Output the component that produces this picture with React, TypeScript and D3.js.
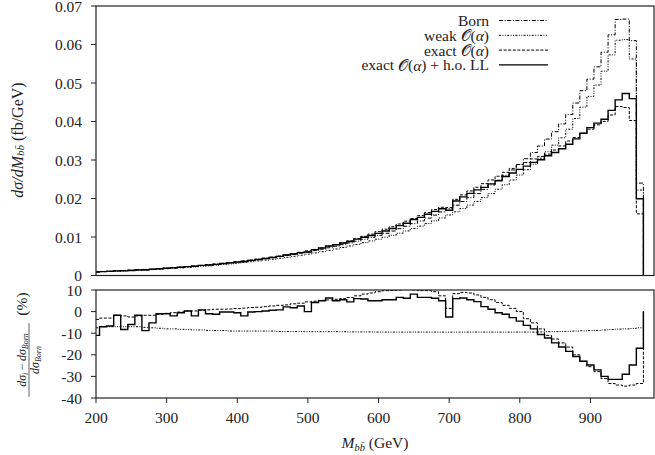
import React from "react";
import * as d3 from "d3";

// Bin edges (GeV): first half bin 200-205, then 10 GeV bins up to 975
const binEdges = [200, ...d3.range(205, 976, 10)];

// Top panel: dσ/dM (fb/GeV)
const bornTop = [
  0.00100, 0.00107, 0.00114, 0.00122, 0.00130, 0.00139, 0.00148, 0.00158, 0.00168, 0.00179,
  0.00191, 0.00203, 0.00216, 0.00230, 0.00245, 0.00260, 0.00276, 0.00293, 0.00311, 0.00330,
  0.00350, 0.00371, 0.00393, 0.00416, 0.00440, 0.00465, 0.00492, 0.00520, 0.00549, 0.00580,
  0.00612, 0.00646, 0.00682, 0.00720, 0.00760, 0.00802, 0.00846, 0.00892, 0.00940, 0.00990,
  0.01042, 0.01097, 0.01155, 0.01216, 0.01280, 0.01347, 0.01417, 0.01491, 0.01569, 0.01651,
  0.01737, 0.01827, 0.01922, 0.02022, 0.02127, 0.02237, 0.02353, 0.02475, 0.02604, 0.02740,
  0.02883, 0.03034, 0.03194, 0.03363, 0.03543, 0.03734, 0.03937, 0.04180, 0.04480, 0.04800,
  0.05100, 0.05420, 0.05800, 0.06250, 0.06650, 0.06660, 0.06100, 0.02400,
];
const weakTop = [
  0.00093, 0.00100, 0.00106, 0.00113, 0.00121, 0.00129, 0.00138, 0.00146, 0.00155, 0.00165,
  0.00176, 0.00187, 0.00198, 0.00211, 0.00224, 0.00238, 0.00252, 0.00267, 0.00284, 0.00300,
  0.00319, 0.00338, 0.00358, 0.00379, 0.00400, 0.00423, 0.00447, 0.00472, 0.00499, 0.00527,
  0.00555, 0.00586, 0.00619, 0.00653, 0.00689, 0.00727, 0.00766, 0.00808, 0.00852, 0.00897,
  0.00943, 0.00993, 0.01045, 0.01100, 0.01158, 0.01219, 0.01282, 0.01349, 0.01420, 0.01494,
  0.01572, 0.01653, 0.01739, 0.01830, 0.01925, 0.02024, 0.02129, 0.02240, 0.02357, 0.02480,
  0.02609, 0.02746, 0.02891, 0.03047, 0.03214, 0.03387, 0.03575, 0.03800, 0.04077, 0.04373,
  0.04651, 0.04948, 0.05307, 0.05731, 0.06111, 0.06127, 0.05624, 0.02220,
];
const exactTop = [
  0.00096, 0.00104, 0.00111, 0.00120, 0.00127, 0.00136, 0.00145, 0.00155, 0.00165, 0.00177,
  0.00189, 0.00202, 0.00216, 0.00231, 0.00246, 0.00262, 0.00278, 0.00296, 0.00314, 0.00334,
  0.00355, 0.00377, 0.00400, 0.00424, 0.00450, 0.00477, 0.00506, 0.00536, 0.00569, 0.00603,
  0.00640, 0.00677, 0.00717, 0.00759, 0.00803, 0.00850, 0.00901, 0.00957, 0.01016, 0.01075,
  0.01138, 0.01203, 0.01268, 0.01338, 0.01411, 0.01482, 0.01554, 0.01636, 0.01713, 0.01772,
  0.01763, 0.01979, 0.02093, 0.02196, 0.02291, 0.02385, 0.02482, 0.02579, 0.02680, 0.02781,
  0.02883, 0.02934, 0.03028, 0.03094, 0.03153, 0.03260, 0.03366, 0.03494, 0.03584, 0.03696,
  0.03800, 0.03913, 0.04002, 0.04169, 0.04389, 0.04362, 0.04026, 0.01601,
];
const exactLLTop = [
  0.00089, 0.00100, 0.00106, 0.00120, 0.00119, 0.00131, 0.00145, 0.00144, 0.00159, 0.00177,
  0.00189, 0.00199, 0.00215, 0.00231, 0.00240, 0.00262, 0.00273, 0.00289, 0.00310, 0.00329,
  0.00348, 0.00364, 0.00392, 0.00416, 0.00441, 0.00468, 0.00496, 0.00531, 0.00559, 0.00595,
  0.00612, 0.00673, 0.00716, 0.00765, 0.00798, 0.00846, 0.00884, 0.00946, 0.00995, 0.01040,
  0.01094, 0.01157, 0.01219, 0.01296, 0.01359, 0.01456, 0.01511, 0.01589, 0.01666, 0.01734,
  0.01694, 0.01937, 0.02043, 0.02133, 0.02225, 0.02288, 0.02379, 0.02463, 0.02573, 0.02663,
  0.02756, 0.02840, 0.02938, 0.03006, 0.03111, 0.03193, 0.03291, 0.03411, 0.03548, 0.03696,
  0.03840, 0.03957, 0.04060, 0.04288, 0.04562, 0.04729, 0.04593, 0.01992,
];

// Bottom panel: relative corrections (%)
const weakRel = [
  -7.5, -7, -7, -7, -7, -7, -7, -7.3, -7.5, -7.7,
  -8, -8, -8.2, -8.3, -8.5, -8.5, -8.7, -8.8, -8.8, -9,
  -9, -9, -9, -9, -9, -9, -9.2, -9.2, -9.2, -9.2,
  -9.3, -9.3, -9.3, -9.3, -9.3, -9.3, -9.4, -9.4, -9.4, -9.4,
  -9.5, -9.5, -9.5, -9.5, -9.5, -9.5, -9.5, -9.5, -9.5, -9.5,
  -9.5, -9.5, -9.5, -9.5, -9.5, -9.5, -9.5, -9.5, -9.5, -9.5,
  -9.5, -9.5, -9.5, -9.4, -9.3, -9.3, -9.2, -9.1, -9, -8.9,
  -8.8, -8.7, -8.5, -8.3, -8.1, -8, -7.8, -7.5,
];
const exactRel = [
  -3.6, -3, -3, -1.7, -2, -2.5, -2, -1.7, -1.7, -1.2,
  -0.8, -0.5, -0.2, 0.3, 0.3, 0.6, 0.8, 1.1, 1.1, 1.2,
  1.4, 1.6, 1.9, 2.0, 2.3, 2.6, 2.9, 3.1, 3.6, 3.9,
  4.5, 4.8, 5.2, 5.4, 5.7, 6.0, 6.5, 7.3, 8.1, 8.6,
  9.2, 9.7, 9.8, 10, 10.2, 10, 9.7, 9.7, 9.2, 7.3,
  1.5, 8.3, 8.9, 8.6, 7.7, 6.6, 5.5, 4.2, 2.9, 1.5,
  0, -3.3, -5.2, -8, -11, -12.7, -14.5, -16.4, -20, -23,
  -25.5, -27.8, -31, -33.3, -34, -34.5, -34, -33.3,
];
const exactLLRel = [
  -11, -7, -6.7, -1.7, -8.3, -6, -1.7, -8.8, -5.2, -1,
  -1, -2, -0.5, 0.3, -2, 0.8, -1, -1.2, -0.2, -0.2,
  -0.5, -2, -0.2, 0, 0.3, 0.6, 0.8, 2.2, 1.8, 2.6,
  0, 4.2, 5, 6.3, 5, 5.5, 4.5, 6, 5.8, 5,
  5, 5.5, 5.5, 6.6, 6.2, 8.1, 6.6, 6.6, 6.2, 5,
  -2.5, 6, 6.3, 5.5, 4.6, 2.3, 1.1, -0.5, -1.2, -2.8,
  -4.4, -6.4, -8, -10.6, -12.2, -14.5, -16.4, -18.4, -20.8, -23,
  -24.7, -27, -30, -31.4, -31.4, -29, -24.7, -17,
];

const xTicks = [200, 300, 400, 500, 600, 700, 800, 900];
const yTopTicks = [0, 0.01, 0.02, 0.03, 0.04, 0.05, 0.06, 0.07];
const yTopLabels = ["0", "0.01", "0.02", "0.03", "0.04", "0.05", "0.06", "0.07"];
const yBotTicks = [10, 0, -10, -20, -30, -40];

const legendNames = ["Born", "weak", "exact", "exactLL"];

const FONT = "'Liberation Serif', 'DejaVu Serif', serif";

const styles: Record<string, { dash: string; width: number }> = {
  Born: { dash: "4,1.6,1,1.6", width: 1 },
  weak: { dash: "2,1.4,1,1.4,1,1.4", width: 1 },
  exact: { dash: "3,1.6", width: 1 },
  exactLL: { dash: "", width: 1.4 },
};

function stepPath(
  values: number[],
  x: d3.ScaleLinear<number, number>,
  y: d3.ScaleLinear<number, number>
) {
  const pts: [number, number][] = values.map((v, i) => [binEdges[i], v]);
  pts.push([binEdges[binEdges.length - 1], values[values.length - 1]]);
  pts.push([binEdges[binEdges.length - 1], 0]);
  const line = d3
    .line<[number, number]>()
    .x((d) => x(d[0]))
    .y((d) => y(d[1]))
    .curve(d3.curveStepAfter);
  return line(pts) || "";
}

export default function App() {
  const W = 655;
  const H = 455;
  const left = 96;
  const right = 654;
  const x = d3.scaleLinear().domain([200, 990]).range([left, right]);
  const yTop = d3.scaleLinear().domain([0, 0.07]).range([275.5, 6]);
  const yBot = d3.scaleLinear().domain([-40, 10]).range([398, 290]);

  const topSeries = [
    { key: "Born", data: bornTop },
    { key: "weak", data: weakTop },
    { key: "exact", data: exactTop },
    { key: "exactLL", data: exactLLTop },
  ];
  const botSeries = [
    { key: "weak", data: weakRel },
    { key: "exact", data: exactRel },
    { key: "exactLL", data: exactLLRel },
  ];

  const frameColor = "#222";
  const fs = 15.5;

  return (
    <svg
      width={W}
      height={H}
      style={{ position: "absolute", left: 0, top: 0, background: "#fff" }}
      fontFamily={FONT}
    >
      <defs>
        <clipPath id="clipTop">
          <rect x={left} y={yTop(0.07)} width={right - left} height={yTop(0) - yTop(0.07)} />
        </clipPath>
        <clipPath id="clipBot">
          <rect x={left} y={yBot(10)} width={right - left} height={yBot(-40) - yBot(10)} />
        </clipPath>
      </defs>

      {/* Top panel curves */}
      <g clipPath="url(#clipTop)">
        {topSeries.map((s) => (
          <path
            key={s.key}
            d={stepPath(s.data, x, yTop)}
            fill="none"
            stroke="#000"
            strokeWidth={styles[s.key].width}
            strokeDasharray={styles[s.key].dash || undefined}
          />
        ))}
      </g>

      {/* Bottom panel curves */}
      <g clipPath="url(#clipBot)">
        {botSeries.map((s) => (
          <path
            key={s.key}
            d={stepPath(s.data, x, yBot)}
            fill="none"
            stroke="#000"
            strokeWidth={styles[s.key].width}
            strokeDasharray={styles[s.key].dash || undefined}
          />
        ))}
      </g>

      {/* Frames */}
      <rect
        x={left}
        y={yTop(0.07)}
        width={right - left}
        height={yTop(0) - yTop(0.07)}
        fill="none"
        stroke={frameColor}
        strokeWidth={1.2}
      />
      <rect
        x={left}
        y={yBot(10)}
        width={right - left}
        height={yBot(-40) - yBot(10)}
        fill="none"
        stroke={frameColor}
        strokeWidth={1.2}
      />

      {/* Top y ticks */}
      {yTopTicks.map((t, i) => (
        <g key={"yt" + i}>
          <line x1={left - 5} x2={left} y1={yTop(t)} y2={yTop(t)} stroke={frameColor} strokeWidth={1} />
          <text x={82} y={yTop(t)} textAnchor="end" dominantBaseline="central" fontSize={fs} fill="#222">
            {yTopLabels[i]}
          </text>
        </g>
      ))}

      {/* Bottom y ticks */}
      {yBotTicks.map((t, i) => (
        <g key={"yb" + i}>
          <line x1={left - 5} x2={left} y1={yBot(t)} y2={yBot(t)} stroke={frameColor} strokeWidth={1} />
          <text x={82} y={yBot(t)} textAnchor="end" dominantBaseline="central" fontSize={fs} fill="#222">
            {t}
          </text>
        </g>
      ))}

      {/* X ticks */}
      {xTicks.map((t, i) => (
        <g key={"xt" + i}>
          <line x1={x(t)} x2={x(t)} y1={yBot(-40)} y2={yBot(-40) + 5} stroke={frameColor} strokeWidth={1} />
          <text x={x(t)} y={423} textAnchor="middle" fontSize={fs} fill="#222">
            {t}
          </text>
        </g>
      ))}

      {/* X title */}
      <text x={(left + right) / 2} y={448} textAnchor="middle" fontSize={fs} fill="#222">
        <tspan fontStyle="italic">M</tspan>
        <tspan fontSize={10.5} dy={3} fontStyle="italic">{"bb\u0304"}</tspan>
        <tspan dy={-3}> (GeV)</tspan>
      </text>

      {/* Top Y title */}
      <g transform={`translate(17, 140) rotate(-90)`}>
        <text x={0} y={0} textAnchor="middle" dominantBaseline="central" fontSize={16} fill="#222">
          <tspan fontStyle="italic">{"dσ/dM"}</tspan>
          <tspan fontSize={11} dy={3} fontStyle="italic">{"bb\u0304"}</tspan>
          <tspan dy={-3}> (fb/GeV)</tspan>
        </text>
      </g>

      {/* Bottom Y title (fraction) */}
      <g transform={`translate(0, 345) rotate(-90)`}>
        <text x={-15} y={26} textAnchor="middle" fontSize={12} fill="#222">
          <tspan fontStyle="italic">{"dσ"}</tspan>
          <tspan fontSize={8} dy={2} fontStyle="italic">i</tspan>
          <tspan dy={-2}>{"\u2009\u2212\u2009"}</tspan>
          <tspan fontStyle="italic">{"dσ"}</tspan>
          <tspan fontSize={8} dy={2} fontStyle="italic">Born</tspan>
        </text>
        <line x1={-52} x2={22} y1={29} y2={29} stroke="#222" strokeWidth={0.7} />
        <text x={-15} y={39} textAnchor="middle" fontSize={12} fill="#222">
          <tspan fontStyle="italic">{"dσ"}</tspan>
          <tspan fontSize={8} dy={2} fontStyle="italic">Born</tspan>
        </text>
        <text x={41} y={27} textAnchor="middle" fontSize={fs} fill="#222">
          (%)
        </text>
      </g>

      {/* Legend */}
      {legendNames.map((k, i) => {
        const yy = 20.5 + i * 14.8;
        return (
          <g key={"lg" + k}>
            <text x={489} y={yy} textAnchor="end" dominantBaseline="central" fontSize={fs} fill="#222">
              {k === "Born" ? (
                "Born"
              ) : (
                <>
                  {k === "weak" ? "weak " : "exact "}
                  <tspan>{"𝒪"}</tspan>
                  {"("}
                  <tspan fontStyle="italic">α</tspan>
                  {")"}
                  {k === "exactLL" ? " + h.o. LL" : ""}
                </>
              )}
            </text>
            <line
              x1={499}
              x2={548}
              y1={yy}
              y2={yy}
              stroke="#000"
              strokeWidth={styles[k].width}
              strokeDasharray={styles[k].dash || undefined}
            />
          </g>
        );
      })}
    </svg>
  );
}
